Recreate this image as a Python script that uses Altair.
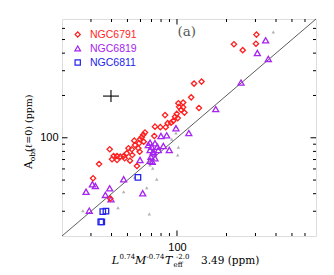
import altair as alt
import pandas as pd

# ---------------- data ----------------
red_x = [304, 302, 222, 251, 127, 141, 122, 136,
         109, 102, 103, 109, 106, 111, 99.6, 97.3, 101, 84.6, 95, 92, 87.8, 85.4, 79.2, 73.5,
         63.9, 62.4, 61, 59.6, 72.8, 62.8, 58.8, 55.0, 55.6, 53.1, 50.7, 59.3, 58.2, 53.5, 51.8, 49.5, 57.1,
         39.0, 41.2, 43.2, 40.3, 43.2, 45.2, 47.4, 48.1, 33.6, 30.9, 39.3]
red_y = [542, 467, 463, 420, 243, 251, 194, 163,
         178, 176, 166, 165, 158, 151, 148, 141, 138, 145, 132, 128, 127, 119, 119, 120,
         109, 105, 101, 97.6, 103, 93.8, 91.4, 95.4, 88.9, 82.8, 84.2, 79.6, 84.2, 75.4, 68.7, 77.5, 63.0,
         82.8, 74.2, 74.2, 70.3, 69.5, 73.4, 74.2, 71.5, 65.1, 51.5, 36.9]

pur_x = [346, 308, 359, 245, 172, 118, 98.6, 79.9, 86.6, 73.5, 68.6, 66.9, 70.2, 82.6, 77.0, 89.8,
         68.6, 71.8, 69.5, 73.5, 68.6, 59.6, 70.8, 71.8, 76.0, 47.4, 28.0, 30.6, 31.9, 39.0, 36.7,
         61.9, 39.7, 29.3]
pur_y = [494, 401, 364, 247, 160, 108, 117, 103, 104, 91.4, 92.3, 88.9, 86.4, 87.4, 81.9, 81.9,
         81.9, 77.5, 73.4, 71.5, 68.7, 69.5, 67.6, 79.6, 86.4, 50.7, 41.3, 46.7, 45.4, 43.7, 39.2,
         40.3, 36.5, 30.3]

blue_x = [57.9, 35.4, 37.0, 34.4, 34.9]
blue_y = [52.3, 29.8, 30.1, 25.2, 25.2]

gray_x = [385, 98.2, 98.6, 102, 101, 68.6, 71.2, 75.3, 65.5, 67.9, 26.8, 47.4, 43.8, 55.3, 92.9]
gray_y = [566, 120, 108, 85.6, 75.4, 64.0, 60.7, 50.7, 44.1, 28.7, 30.3, 41.3, 31.8, 52.3, 97.6]

# typical error bar (cross)
cross_x, cross_x_lo, cross_x_hi = 39.7, 35.5, 44.4
cross_y, cross_y_lo, cross_y_hi = 198, 180, 219

diag_ends = [20, 700]
axis_domain = [20, 700]
tick_minor = [30, 40, 50, 60, 70, 80, 90, 200, 300, 400, 500, 600]
tick_major = [100]

legend_labels = ["NGC6791", "NGC6819", "NGC6811"]

RED = "#ff1f1f"
PUR = "#a623f0"
BLUE = "#2323ee"
GRAY = "#b0b0b0"
legend_colors = [RED, PUR, BLUE]
legend_shapes = ["diamond", "triangle-up", "square"]
legend_sizes = [26, 32, 28]

W, H = 254, 217

# ---------------- scales / axes ----------------
xs = alt.Scale(type="log", domain=axis_domain, nice=False)
ys = alt.Scale(type="log", domain=axis_domain, nice=False)
xax = alt.Axis(values=tick_major, format="d", title=None, ticks=False, tickSize=0, domain=False,
               grid=False, labelFont="Liberation Sans", labelFontSize=11, labelPadding=5,
               labelColor="black")
yax = alt.Axis(values=tick_major, format="d", title=None, ticks=False, tickSize=0, domain=False,
               grid=False, labelFont="Liberation Sans", labelFontSize=11, labelPadding=4,
               labelColor="black")


def X(f):
    return alt.X(f"{f}:Q", scale=xs, axis=xax)


def Y(f):
    return alt.Y(f"{f}:Q", scale=ys, axis=yax)


layers = []

# diagonal 1:1 line
df_diag = pd.DataFrame({"v": diag_ends})
layers.append(alt.Chart(df_diag).mark_line(color="#333333", strokeWidth=0.8)
              .encode(x=X("v"), y=Y("v")))

# inward ticks on all four sides
for vals, ln in ((tick_minor, 3), (tick_major, 5.5)):
    dft = pd.DataFrame({"v": vals})
    layers.append(alt.Chart(dft).mark_rule(color="black", strokeWidth=1)
                  .encode(x=X("v"), y=alt.value(H), y2=alt.value(H - ln)))
    layers.append(alt.Chart(dft).mark_rule(color="black", strokeWidth=1)
                  .encode(x=X("v"), y=alt.value(0), y2=alt.value(ln)))
    layers.append(alt.Chart(dft).mark_rule(color="black", strokeWidth=1)
                  .encode(y=Y("v"), x=alt.value(0), x2=alt.value(ln)))
    layers.append(alt.Chart(dft).mark_rule(color="black", strokeWidth=1)
                  .encode(y=Y("v"), x=alt.value(W), x2=alt.value(W - ln)))

# gray background sample
layers.append(alt.Chart(pd.DataFrame({"x": gray_x, "y": gray_y}))
              .mark_point(shape="triangle-up", filled=True, color=GRAY, size=12, opacity=1)
              .encode(x=X("x"), y=Y("y")))

# clusters
layers.append(alt.Chart(pd.DataFrame({"x": pur_x, "y": pur_y}))
              .mark_point(shape="triangle-up", filled=False, color=PUR, size=36, strokeWidth=1.3, opacity=1)
              .encode(x=X("x"), y=Y("y")))
layers.append(alt.Chart(pd.DataFrame({"x": red_x, "y": red_y}))
              .mark_point(shape="diamond", filled=False, color=RED, size=28, strokeWidth=1.3, opacity=1)
              .encode(x=X("x"), y=Y("y")))
layers.append(alt.Chart(pd.DataFrame({"x": blue_x, "y": blue_y}))
              .mark_point(shape="square", filled=False, color=BLUE, size=30, strokeWidth=1.3, opacity=1)
              .encode(x=X("x"), y=Y("y")))

# error cross
layers.append(alt.Chart(pd.DataFrame({"lo": [cross_x_lo], "hi": [cross_x_hi], "c": [cross_y]}))
              .mark_rule(color="black", strokeWidth=1.1)
              .encode(x=X("lo"), x2=alt.X2("hi:Q"), y=Y("c")))
layers.append(alt.Chart(pd.DataFrame({"lo": [cross_y_lo], "hi": [cross_y_hi], "c": [cross_x]}))
              .mark_rule(color="black", strokeWidth=1.1)
              .encode(y=Y("lo"), y2=alt.Y2("hi:Q"), x=X("c")))

# legend
for i, (lab, col, shp, sz) in enumerate(zip(legend_labels, legend_colors, legend_shapes, legend_sizes)):
    d = pd.DataFrame({"t": [lab]})
    yy = 15.5 + 14 * i
    layers.append(alt.Chart(d).mark_point(shape=shp, filled=False, color=col, size=sz,
                                          strokeWidth=1.2, opacity=1)
                  .encode(x=alt.value(15.7), y=alt.value(yy)))
    layers.append(alt.Chart(d).mark_text(align="left", baseline="middle", font="Liberation Sans",
                                         fontSize=10.5, color=col)
                  .encode(x=alt.value(28), y=alt.value(yy + 0.5), text="t:N"))


def label(txt, x, y, size, italic=False, angle=0, font="DejaVu Serif", color="black",
          align="left", baseline="alphabetic"):
    kw = dict(align=align, baseline=baseline, font=font, fontSize=size, color=color)
    if italic:
        kw["fontStyle"] = "italic"
    if angle:
        kw["angle"] = angle
    return (alt.Chart(pd.DataFrame({"t": [txt]})).mark_text(**kw)
            .encode(x=alt.value(x), y=alt.value(y), text="t:N"))


# panel label
layers.append(label("(a)", 124.7, 13, 13.5, color="#555555", align="center", baseline="middle"))

# x-axis title, composed of pieces
layers.append(label("L", 49.7, 245, 11, italic=True))
layers.append(label("0.74", 57.5, 240, 7))
layers.append(label("M", 73.0, 245, 11, italic=True))
layers.append(label("-0.74", 84.5, 240, 7))
layers.append(label("T", 103.0, 245, 11, italic=True))
layers.append(label("eff", 111.5, 248, 7))
layers.append(label("-2.0", 114.0, 240, 7))
layers.append(label("3.49  (ppm)", 139, 245, 10.5))

# y-axis title, rotated, composed of pieces
layers.append(label("A", -30.5, 150, 11, angle=270))
layers.append(label("obs", -27.5, 142.3, 7.5, angle=270))
layers.append(label("(\u2113=0)  (ppm)", -30.5, 133, 9.5, angle=270))

chart = (alt.layer(*layers)
         .properties(width=W, height=H,
                     autosize=alt.AutoSizeParams(type="none"),
                     padding={"left": 54, "top": 11, "right": 10, "bottom": 38})
         .configure_view(stroke="black", strokeWidth=1.3)
         .configure(background="white"))

chart.save("out.html", embed_options={"renderer": "svg", "actions": False})
